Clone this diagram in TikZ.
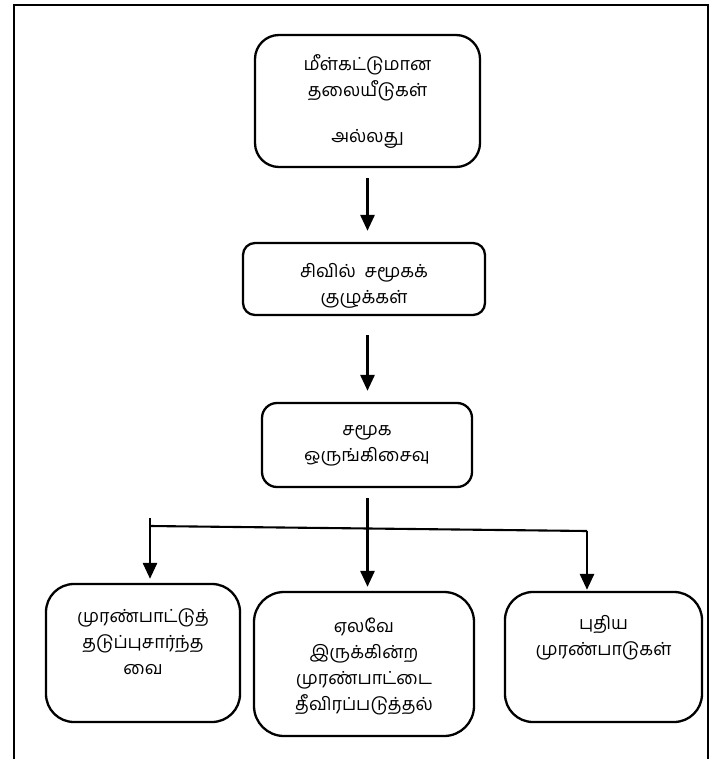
\documentclass[tikz,border=0pt]{standalone}
\usepackage{fontspec}
\newfontfamily\tamil[Script=Tamil]{Hind Madurai}
\usetikzlibrary{arrows.meta}
\begin{document}
\begin{tikzpicture}[x=1pt,y=-1pt,
  box/.style={draw, line width=2.3pt, rounded corners=#1, inner sep=0pt},
  box/.default=10pt,
  txt/.style={align=center, font=\tamil\fontsize{18}{26}\selectfont, inner sep=0pt},
  arr/.style={line width=2.8pt, -{Triangle[length=16pt,width=14pt]}},
  conn/.style={line width=2.1pt}]
\useasboundingbox (0,0) rectangle (727,759);
\draw[line width=2.8pt] (14,759) -- (14,5) -- (708,5) -- (708,759);
% boxes
\node[box=24pt, minimum width=225pt, minimum height=132pt] (b1) at (367.5,101) {};
\node[box=12pt, minimum width=242pt, minimum height=72pt] (b2) at (364,279) {};
\node[box=15pt, minimum width=210pt, minimum height=84pt] (b3) at (367,445) {};
\node[box=28pt, minimum width=194pt, minimum height=138pt] (b4) at (143,653) {};
\node[box=30pt, minimum width=220pt, minimum height=144pt] (b5) at (364,664) {};
\node[box=28pt, minimum width=197pt, minimum height=130pt] (b6) at (603.5,657) {};
% texts
\node[txt] (t1) at (367.5,102) {மீள்கட்டுமான\\தலையீடுகள்\\[20pt]அல்லது};
\node[txt] (t2) at (364,286) {சிவில்~~சமூகக்\\குழுக்கள்};
\node[txt] (t3) at (367,446) {சமூக\\ஒருங்கிசைவு};
\node[txt] (t4) at (143,642) {முரண்பாட்டுத்\\தடுப்புசார்ந்த\\வை};
\node[txt] (t5) at (364,666) {ஏலவே\\இருக்கின்ற\\முரண்பாட்டை\\தீவிரப்படுத்தல்};
\node[txt] (t6) at (603.5,638) {புதிய\\முரண்பாடுகள்};
% connectors
\draw[arr, shorten <=10pt, shorten >=11pt] (b1.south) -- (b1.south |- b2.north);
\draw[arr, shorten <=19pt, shorten >=11pt] (b2.south -| b1.south) -- (b1.south |- b3.north);
\draw[arr, shorten <=10pt, shorten >=4pt] (b3.south -| b1.south) -- (b1.south |- b5.north);
\coordinate (stub) at (150,518);
\coordinate (jl) at (150,526);
\coordinate (jr) at (587,531);
\draw[arr, shorten >=4pt] (stub) -- (stub |- b4.north);
\draw[conn] (jl) -- (jr);
\draw[arr, shorten >=1pt] (jr) -- (jr |- b6.north);
\end{tikzpicture}
\end{document}
